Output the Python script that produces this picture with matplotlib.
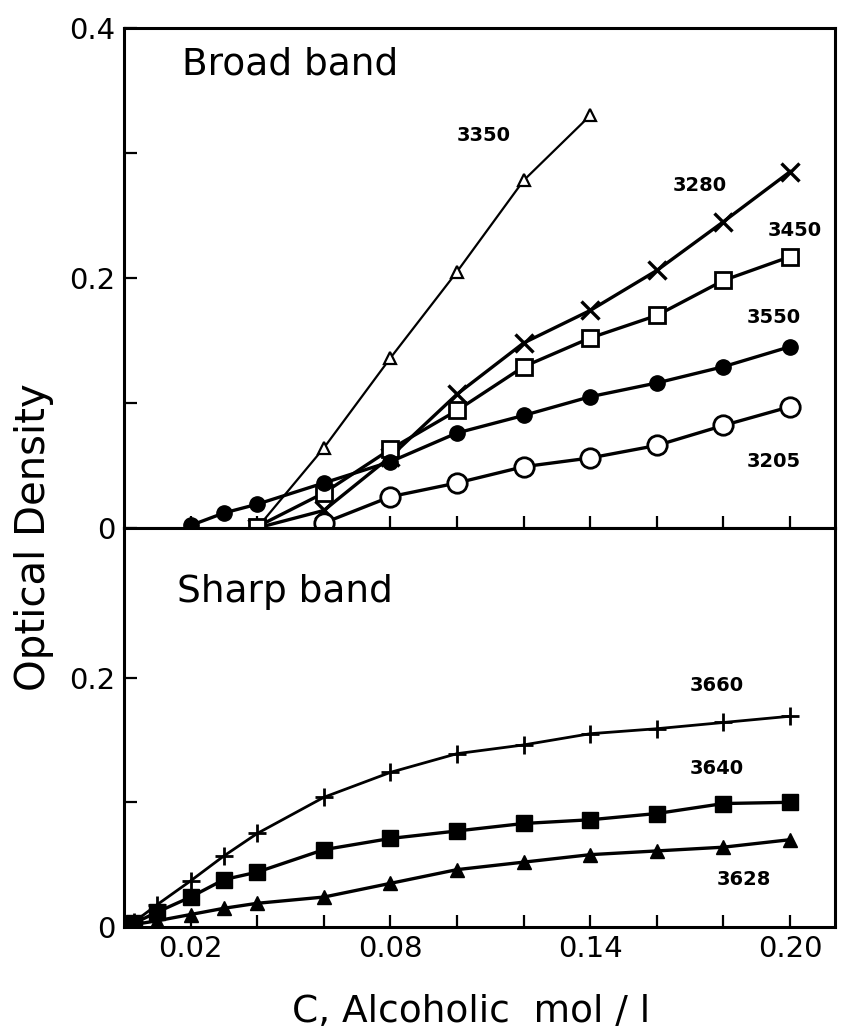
import matplotlib.pyplot as plt

# broad band (top panel)
x_3350 = [0.04, 0.06, 0.08, 0.10, 0.12, 0.14]
y_3350 = [0.0, 0.064, 0.136, 0.205, 0.278, 0.330]

x_3280 = [0.04, 0.06, 0.08, 0.10, 0.12, 0.14, 0.16, 0.18, 0.20]
y_3280 = [0.0, 0.014, 0.057, 0.107, 0.148, 0.174, 0.206, 0.245, 0.285]

x_3450 = [0.04, 0.06, 0.08, 0.10, 0.12, 0.14, 0.16, 0.18, 0.20]
y_3450 = [0.001, 0.028, 0.063, 0.094, 0.129, 0.152, 0.170, 0.198, 0.217]

x_3550 = [0.02, 0.03, 0.04, 0.06, 0.08, 0.10, 0.12, 0.14, 0.16, 0.18, 0.20]
y_3550 = [0.002, 0.012, 0.019, 0.036, 0.053, 0.076, 0.090, 0.105, 0.116, 0.129, 0.145]

x_3205 = [0.06, 0.08, 0.10, 0.12, 0.14, 0.16, 0.18, 0.20]
y_3205 = [0.004, 0.025, 0.036, 0.049, 0.056, 0.066, 0.082, 0.097]

# sharp band (bottom panel)
x_sharp = [0.003, 0.01, 0.02, 0.03, 0.04, 0.06, 0.08, 0.10, 0.12, 0.14, 0.16, 0.18, 0.20]
y_3660 = [0.004, 0.018, 0.037, 0.057, 0.075, 0.104, 0.124, 0.139, 0.146, 0.155, 0.159, 0.164, 0.169]
y_3640 = [0.003, 0.012, 0.024, 0.038, 0.044, 0.062, 0.071, 0.077, 0.083, 0.086, 0.091, 0.099, 0.100]
y_3628 = [0.002, 0.005, 0.010, 0.015, 0.019, 0.024, 0.035, 0.046, 0.052, 0.058, 0.061, 0.064, 0.070]

x_ticks = [0.02, 0.04, 0.06, 0.08, 0.10, 0.12, 0.14, 0.16, 0.18, 0.20]
x_ticklabels = ["0.02", "", "", "0.08", "", "", "0.14", "", "", "0.20"]

plt.rcParams['font.family'] = ['DejaVu Sans']

fig = plt.figure(figsize=(8.42, 10.34), dpi=100)
ax1 = fig.add_axes([0.1473, 0.4894, 0.8444, 0.4836])
ax2 = fig.add_axes([0.1473, 0.1035, 0.8444, 0.3859], sharex=ax1)

lw = 2.4
ax1.plot(x_3350, y_3350, color="black", lw=1.6, marker="^", ms=9, mfc="white", mec="black", mew=1.6)
ax1.plot(x_3280, y_3280, color="black", lw=lw, marker="x", ms=13, mew=2.4)
ax1.plot(x_3450, y_3450, color="black", lw=lw, marker="s", ms=11, mfc="white", mec="black", mew=2)
ax1.plot(x_3550, y_3550, color="black", lw=lw, marker="o", ms=11, mfc="black", mec="black")
ax1.plot(x_3205, y_3205, color="black", lw=lw, marker="o", ms=14, mfc="white", mec="black", mew=2)

ax2.plot(x_sharp, y_3660, color="black", lw=2, marker="+", ms=13, mew=2)
ax2.plot(x_sharp, y_3640, color="black", lw=lw, marker="s", ms=12, mfc="black", mec="black")
ax2.plot(x_sharp, y_3628, color="black", lw=lw, marker="^", ms=10, mfc="black", mec="black")

ax1.set_xlim(0, 0.2135)
ax1.set_ylim(0, 0.4)
ax2.set_ylim(0, 0.32)

ax1.set_yticks([0, 0.1, 0.2, 0.3, 0.4])
ax1.set_yticklabels(["0", "", "0.2", "", "0.4"])
ax2.set_yticks([0, 0.1, 0.2])
ax2.set_yticklabels(["0", "", "0.2"])
ax2.set_xticks(x_ticks)
ax2.set_xticklabels(x_ticklabels)
ax1.tick_params(axis="x", labelbottom=False)

for ax in (ax1, ax2):
    ax.tick_params(direction="in", length=9, width=1.6, labelsize=21, pad=6)
    for s in ax.spines.values():
        s.set_linewidth(2.2)

ax1.text(0.082, 0.926, "Broad band", transform=ax1.transAxes, fontsize=27, va="center")
ax2.text(0.075, 0.84, "Sharp band", transform=ax2.transAxes, fontsize=27, va="center")

lab = dict(fontsize=14, fontweight="bold", ha="center", va="center")
ax1.text(0.108, 0.314, "3350", **lab)
ax1.text(0.173, 0.274, "3280", **lab)
ax1.text(0.2015, 0.238, "3450", **lab)
ax1.text(0.195, 0.168, "3550", **lab)
ax1.text(0.195, 0.053, "3205", **lab)
ax2.text(0.178, 0.194, "3660", **lab)
ax2.text(0.178, 0.127, "3640", **lab)
ax2.text(0.186, 0.038, "3628", **lab)

fig.text(0.040, 0.481, "Optical Density", rotation=90, fontsize=29, ha="center", va="center")
fig.text(0.559, 0.021, "C, Alcoholic  mol / l", fontsize=27, ha="center", va="center")

fig.savefig("out.png", dpi=100)
